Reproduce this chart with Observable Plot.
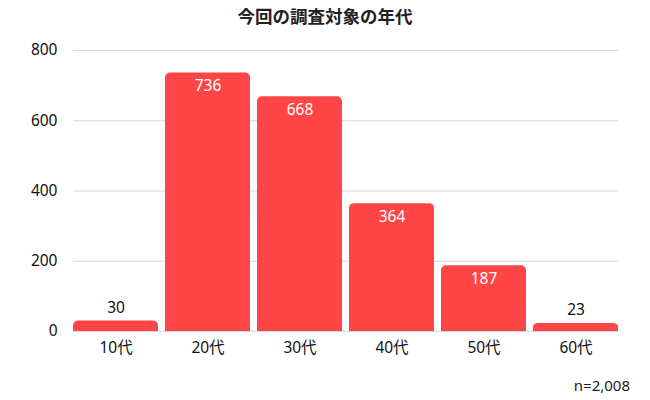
<!DOCTYPE html>
<html><head><meta charset="utf-8">
<script src="https://cdn.jsdelivr.net/npm/d3@7"></script>
<script src="https://cdn.jsdelivr.net/npm/@observablehq/plot@0.6"></script>
<style>
body{margin:0;background:#fff;font-family:"Noto Sans","Noto Sans CJK JP",sans-serif;}
#title{height:34px;line-height:32px;text-align:center;font-size:17.5px;font-weight:bold;color:#222;font-family:"Noto Sans CJK JP",sans-serif;}
#cap{text-align:right;padding-right:20px;font-size:15px;color:#222;margin-top:11px;}
svg{display:block;}
</style></head><body>
<div id="title">今回の調査対象の年代</div>
<div id="chart"></div>
<div id="cap">n=2,008</div>
<script>
const categories = ["10代","20代","30代","40代","50代","60代"];
const values = [30, 736, 668, 364, 187, 23];
const yTicks = [0, 200, 400, 600, 800];
const data = categories.map((c, i) => ({c, v: values[i]}));
const red = "#ff4545";
const plot = Plot.plot({
  width: 650, height: 330,
  marginTop: 16, marginBottom: 33, marginLeft: 73, marginRight: 32,
  style: {fontSize: "15.5px", fontFamily: "'Noto Sans','Noto Sans CJK JP',sans-serif", color: "#111"},
  x: {domain: categories, paddingInner: 0.076, paddingOuter: 0, round: false, label: null, tickSize: 0, tickPadding: 10},
  y: {domain: [0, 800], ticks: yTicks, label: null, tickSize: 0, tickPadding: 16},
  marks: [
    Plot.gridY(yTicks, {stroke: "#d8d8d8", strokeOpacity: 1}),
    Plot.barY(data, {x: "c", y: "v", fill: red, rx: 5}),
    Plot.barY(data, {x: "c", y1: 0, y2: d => d.v / 2, fill: red}),
    Plot.text(data.filter(d => d.v >= 100), {x: "c", y: "v", text: d => String(d.v), dy: 13, fill: "white", fontSize: 15.5}),
    Plot.text(data.filter(d => d.v < 100), {x: "c", y: "v", text: d => String(d.v), dy: -13, fill: "#111", fontSize: 15.5})
  ]
});
document.getElementById("chart").append(plot);
</script>
</body></html>
